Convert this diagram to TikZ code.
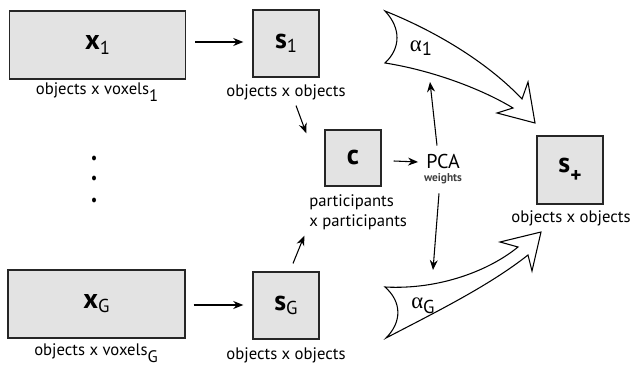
\documentclass[tikz,border=0pt]{standalone}
\usepackage{fontspec}
\setmainfont{PT Sans}
\newfontfamily\grkfont{Liberation Serif}
\usetikzlibrary{arrows.meta,calc}
\newcommand{\boxlab}[2]{\textbf{#1}\raisebox{-0.3ex}{\fontsize{14}{14}\selectfont #2}}
\newcommand{\dimsub}[1]{\raisebox{-0.9ex}{#1}}
\begin{document}
\begin{tikzpicture}[x=0.75pt,y=0.75pt,yscale=-1,xscale=1,
  matbox/.style={draw=black!85,fill=black!11,line width=1.1pt,inner sep=0pt,font=\fontsize{21}{21}\selectfont},
  dimlab/.style={font=\fontsize{12.5}{15}\selectfont,inner sep=0.75pt},
  arr/.style={-{Stealth[length=7.5pt,width=6pt]},line width=0.8pt},
  fatarr/.style={draw,fill=white,line width=0.8pt,line join=miter}]
\useasboundingbox (0,0) rectangle (635,366);

% matrices
\node [matbox,minimum width=132pt,minimum height=51pt] (x1) at (97.5,45) {\boxlab{x}{1}};
\node [matbox,minimum width=49.5pt,minimum height=50pt] (s1) at (286,43.5) {\boxlab{s}{1}};
\node [matbox,minimum width=132.5pt,minimum height=51pt] (xG) at (96.5,304) {\boxlab{x}{G}};
\node [matbox,minimum width=49.5pt,minimum height=50pt] (sG) at (286,305.5) {\boxlab{s}{G}};
\node [matbox,minimum width=42pt,minimum height=42pt] (c) at (353,158) {\textbf{c}};
\node [matbox,minimum width=49.5pt,minimum height=51pt] (splus) at (570,170) {\textbf{s}\raisebox{-0.7ex}{\fontsize{16}{16}\selectfont\bfseries +}};

% dimensions
\node [dimlab] (x1lab) at (97,92) {objects x voxels\dimsub{1}};
\node [dimlab] (s1lab) at (286,92) {objects x objects};
\node [dimlab] (xGlab) at (96,353) {objects x voxels\dimsub{G}};
\node [dimlab] (sGlab) at (286,355) {objects x objects};
\node [dimlab,anchor=north west,align=left] (clab) at (308,193) {participants\\x participants};
\node [dimlab] (spluslab) at (571,218) {objects x objects};

% pca
\node [inner sep=0.75pt,font=\fontsize{15}{15}\selectfont] (pca) at (443,162) {PCA};
\node [inner sep=0.75pt,font=\fontsize{8.5}{8.5}\selectfont\bfseries,text=black!75] (wts) at (443,179) {weights};

% dots
\foreach \y in {158,178,200}
  \fill (94,\y) ellipse [x radius=2, y radius=2.4];

% connectors
\draw [arr] ($(x1.east)+(9,-3)$) -- ($(s1.west)+(-9,-1.5)$);
\draw [arr] ($(xG.east)+(8,1)$) -- ($(sG.west)+(-9,-0.5)$);
\draw [arr] ($(s1.south)+(10,28)$) -- ($(c.north west)+(-18,4)$);
\draw [arr] ($(sG.north)+(7,-8)$) -- ($(c.south west)+(-20,49)$);
\draw [arr] ($(c.east)+(12,3)$) -- ($(pca.west)+(-7,0)$);
\coordinate (a1in) at (430,82);
\coordinate (aGin) at (433,270);
\draw [arr] ($(pca.north)+(-6,-8)$) -- (a1in);
\draw [arr] ($(wts.south)+(-4,8)$) -- (aGin);

% weighted sums
\draw [fatarr] (385,11) .. controls (440,33) and (490,65) .. (522,99) -- (528,82) -- (535,123) -- (497,113) -- (513,108)
  .. controls (480,88) and (430,70) .. (385,63) .. controls (401,48) and (401,28) .. cycle;
\draw [fatarr] (385,287) .. controls (440,290) and (490,270) .. (518,247) -- (500,242) -- (541,232) -- (532,271) -- (528,255)
  .. controls (490,285) and (440,310) .. (386,338) .. controls (402,322) and (402,302) .. cycle;
\node [inner sep=0pt,font=\fontsize{14}{14}\selectfont] (a1) at (421,48) {{\grkfont\fontsize{17}{17}\selectfont α}\raisebox{-0.5ex}{1}};
\node [inner sep=0pt,font=\fontsize{14}{14}\selectfont] (aG) at (423,306) {{\grkfont\fontsize{17}{17}\selectfont α}\raisebox{-0.5ex}{G}};

\end{tikzpicture}
\end{document}
